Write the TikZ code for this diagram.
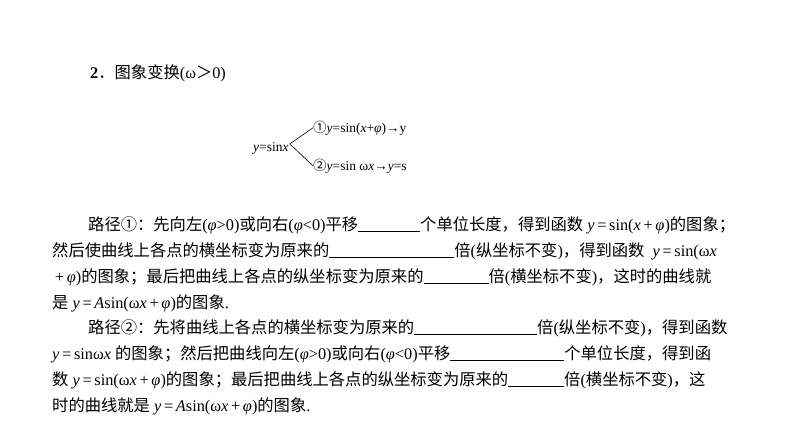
\documentclass[tikz,border=0pt]{standalone}
\usepackage{fontspec}
\setmainfont{Liberation Serif}
\newfontfamily\cjk{Noto Sans CJK SC}
\newcommand\C[1]{{\cjk #1}}
\newcommand\B[1]{\underline{\hspace{#1pt}}}
\newcommand\E{\,=\,}
\newcommand\Pl{\,+\,}
\begin{document}
\begin{tikzpicture}[x=1pt,y=-1pt,txt/.style={anchor=base west,inner sep=0,font=\fontsize{16.3}{18}\selectfont},sm/.style={anchor=base west,inner sep=0,font=\fontsize{13.5}{15}\selectfont}]
\useasboundingbox (0,0) rectangle (794,447);
\node[txt] (h) at (90,78) {\textbf{2}\C{．图象变换}(ω\C{＞}0)};
\node[sm] (s) at (253,151) {\textit{y}=sin\textit{x}};
\node[sm] (a) at (313,132) {\C{①}\textit{y}=sin(\textit{x}+\textit{φ})→y};
\node[sm] (b) at (313,170) {\C{②}\textit{y}=sin ω\textit{x}→\textit{y}=s};
\draw[line width=0.6pt] (s.east) ++(1,-4) coordinate (c) -- (a.west);
\draw[line width=0.6pt] (c) -- (b.west);
\node[txt] (l1) at (88,230) {\C{路径①：先向左}(\textit{φ}>0)\C{或向右}(\textit{φ}<0)\C{平移}\B{62}\C{个单位长度，得到函数} \textit{y}\E sin(\textit{x}\Pl\textit{φ})\C{的图象；}};
\node[txt] (l2) at (52,256) {\C{然后使曲线上各点的横坐标变为原来的}\B{125}\C{倍}(\C{纵坐标不变})\C{，得到函数} \ \textit{y}\E sin(ω\textit{x}};
\node[txt] (l3) at (52,282) {\Pl\textit{φ})\C{的图象；最后把曲线上各点的纵坐标变为原来的}\B{65}\C{倍}(\C{横坐标不变})\C{，这时的曲线就}};
\node[txt] (l4) at (52,308) {\C{是} \textit{y}\E\textit{A}sin(ω\textit{x}\Pl\textit{φ})\C{的图象}.};
\node[txt] (l5) at (88,333) {\C{路径②：先将曲线上各点的横坐标变为原来的}\B{123}\C{倍}(\C{纵坐标不变})\C{，得到函数}};
\node[txt] (l6) at (52,359) {\textit{y}\E sinω\textit{x} \C{的图象；然后把曲线向左}(\textit{φ}>0)\C{或向右}(\textit{φ}<0)\C{平移}\B{114}\C{个单位长度，得到函}};
\node[txt] (l7) at (52,385) {\C{数} \textit{y}\E sin(ω\textit{x}\Pl\textit{φ})\C{的图象；最后把曲线上各点的纵坐标变为原来的}\B{56}\C{倍}(\C{横坐标不变})\C{，这}};
\node[txt] (l8) at (52,411) {\C{时的曲线就是} \textit{y}\E\textit{A}sin(ω\textit{x}\Pl\textit{φ})\C{的图象}.};
\end{tikzpicture}
\end{document}
